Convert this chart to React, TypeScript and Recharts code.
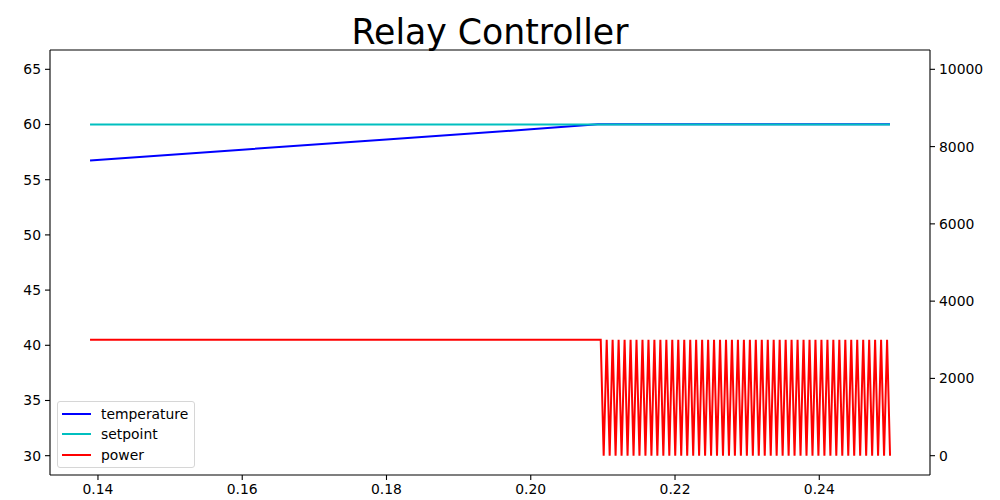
import { LineChart, Line, XAxis, YAxis, ReferenceLine } from 'recharts';

const FONT = '"DejaVu Sans", sans-serif';

// sample times (s) and values
const tempTimes = [0.1389, 0.16, 0.18, 0.2, 0.2093, 0.2498];
const tempValues = [56.75, 57.72, 58.64, 59.57, 60.03, 60.03];

const setpointTimes = [0.1389, 0.2498];
const setpointValues = [60, 60];

// relay on/off switching: power 3000 W at peaks, 0 W at troughs
const powerStart = { t: 0.1389, power: 3000 };
const peakTimes = [
  0.2097, 0.21053, 0.21135, 0.21218, 0.21301, 0.21384, 0.21466, 0.21549, 0.21632, 0.21714,
  0.21797, 0.2188, 0.21962, 0.22045, 0.22128, 0.22211, 0.22293, 0.22376, 0.22459, 0.22541,
  0.22624, 0.22707, 0.22789, 0.22872, 0.22955, 0.23038, 0.2312, 0.23203, 0.23286, 0.23368,
  0.23451, 0.23534, 0.23616, 0.23699, 0.23782, 0.23865, 0.23947, 0.2403, 0.24113, 0.24195,
  0.24278, 0.24361, 0.24443, 0.24526, 0.24609, 0.24692, 0.24774, 0.24857, 0.2494,
];
const troughTimes = [
  0.21011, 0.21094, 0.21176, 0.21259, 0.21342, 0.21425, 0.21507, 0.2159, 0.21673, 0.21755,
  0.21838, 0.21921, 0.22003, 0.22086, 0.22169, 0.22252, 0.22334, 0.22417, 0.225, 0.22582,
  0.22665, 0.22748, 0.2283, 0.22913, 0.22996, 0.23079, 0.23161, 0.23244, 0.23327, 0.23409,
  0.23492, 0.23575, 0.23657, 0.2374, 0.23823, 0.23906, 0.23988, 0.24071, 0.24154, 0.24236,
  0.24319, 0.24402, 0.24484, 0.24567, 0.2465, 0.24733, 0.24815, 0.24898, 0.24981,
];
const POWER_ON = 3000;
const POWER_OFF = 0;

const xTicks = [0.14, 0.16, 0.18, 0.2, 0.22, 0.24];
const leftTicks = [30, 35, 40, 45, 50, 55, 60, 65];
const rightTicks = [0, 2000, 4000, 6000, 8000, 10000];

const X_DOMAIN = [0.13335, 0.25535];
const LEFT_DOMAIN = [28.25, 66.75];
const RIGHT_DOMAIN = [-500, 10500];

const tempData = tempTimes.map((t, i) => ({ t, temperature: tempValues[i] }));
const setpointData = setpointTimes.map((t, i) => ({ t, setpoint: setpointValues[i] }));
const powerData = [powerStart];
peakTimes.forEach((t, i) => {
  powerData.push({ t, power: POWER_ON });
  powerData.push({ t: troughTimes[i], power: POWER_OFF });
});

const legendItems = [
  { name: 'temperature', color: '#0000ff' },
  { name: 'setpoint', color: '#00bfbf' },
  { name: 'power', color: '#ff0000' },
];

const tickStyle = { fontSize: 13.9, fill: '#000', fontFamily: FONT };
const axisLine = { stroke: '#000', strokeWidth: 1.1 };

export default function App() {
  return (
    <div style={{ position: 'absolute', left: 0, top: 0, width: 1000, height: 500, background: '#fff' }}>
      <div
        style={{
          position: 'absolute',
          left: 50,
          width: 880,
          top: 12,
          textAlign: 'center',
          fontFamily: FONT,
          fontSize: 34.7,
          color: '#000',
          lineHeight: 1.2,
        }}
      >
        Relay Controller
      </div>
      <LineChart width={1000} height={500} margin={{ top: 50, right: 0, left: 0, bottom: 0 }}>
        <XAxis
          dataKey="t"
          type="number"
          domain={X_DOMAIN}
          allowDataOverflow
          ticks={xTicks}
          tickFormatter={(v: number) => v.toFixed(2)}
          tick={tickStyle}
          tickSize={5}
          tickMargin={4}
          axisLine={axisLine}
          tickLine={axisLine}
          height={25}
        />
        <YAxis
          yAxisId="left"
          type="number"
          domain={LEFT_DOMAIN}
          allowDataOverflow
          ticks={leftTicks}
          tick={tickStyle}
          tickSize={5}
          tickMargin={4}
          axisLine={axisLine}
          tickLine={axisLine}
          width={50}
        />
        <YAxis
          yAxisId="right"
          orientation="right"
          type="number"
          domain={RIGHT_DOMAIN}
          allowDataOverflow
          ticks={rightTicks}
          tick={{ ...tickStyle, textAnchor: 'start' }}
          tickSize={5}
          tickMargin={4}
          axisLine={axisLine}
          tickLine={axisLine}
          width={70}
        />
        {/* top spine */}
        <ReferenceLine yAxisId="left" y={LEFT_DOMAIN[1]} stroke="#000" strokeWidth={1.1} ifOverflow="visible" />
        <Line
          yAxisId="left"
          data={tempData}
          dataKey="temperature"
          stroke="#0000ff"
          strokeWidth={2}
          dot={false}
          isAnimationActive={false}
        />
        <Line
          yAxisId="left"
          data={setpointData}
          dataKey="setpoint"
          stroke="#00bfbf"
          strokeWidth={2}
          dot={false}
          isAnimationActive={false}
        />
        <Line
          yAxisId="right"
          data={powerData}
          dataKey="power"
          stroke="#ff0000"
          strokeWidth={2}
          dot={false}
          isAnimationActive={false}
        />
      </LineChart>
      <div
        style={{
          position: 'absolute',
          left: 57,
          top: 401,
          width: 138,
          height: 67,
          border: '1px solid #d6d6d6',
          borderRadius: 3,
          background: 'rgba(255,255,255,0.8)',
          fontFamily: FONT,
          fontSize: 13.9,
          color: '#000',
          boxSizing: 'border-box',
        }}
      >
        {legendItems.map((item, i) => (
          <div key={item.name} style={{ position: 'absolute', left: 4, top: 1.5 + i * 20.5, height: 20, display: 'flex', alignItems: 'center' }}>
            <div style={{ width: 29, height: 2, background: item.color, marginRight: 10 }} />
            <span>{item.name}</span>
          </div>
        ))}
      </div>
    </div>
  );
}
